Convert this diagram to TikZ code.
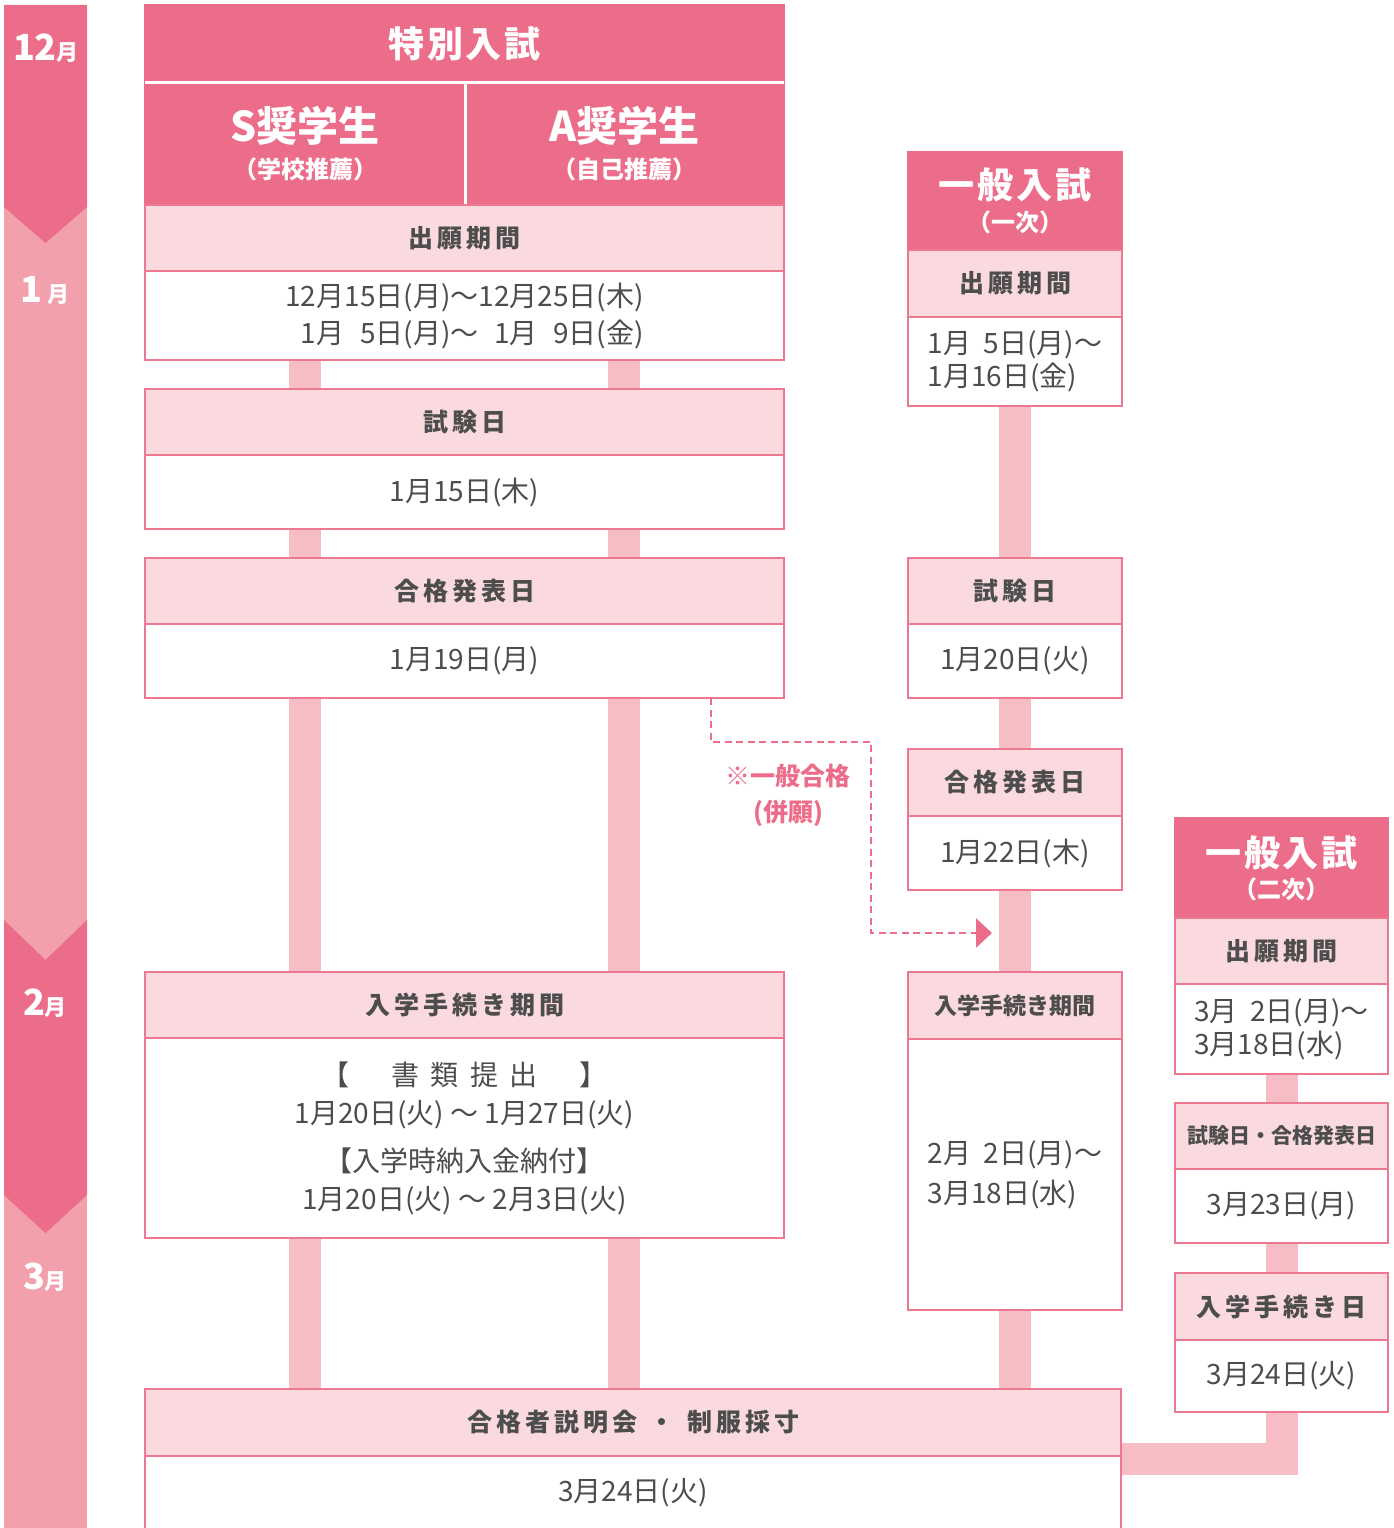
\documentclass[tikz,border=0pt]{standalone}
\usepackage{fontspec}
\setmainfont{Noto Sans CJK JP}
\usetikzlibrary{arrows.meta,backgrounds,calc}
\definecolor{darkp}{HTML}{EC6D89}
\definecolor{lightp}{HTML}{F1A0AC}
\definecolor{paleh}{HTML}{FADADF}
\definecolor{pipec}{HTML}{F6BDC5}
\definecolor{bordc}{HTML}{EC7891}
\definecolor{textc}{HTML}{4D4D4D}
\newcommand{\fsz}[2][]{\fontsize{#2}{#2}\selectfont}
\newcommand{\fszl}[2]{\fontsize{#1}{#2}\selectfont}

\tikzset{
  cell/.style={anchor=north west, inner sep=0pt, outer sep=0pt, line width=1.8pt, draw=bordc, text=textc},
  ttlbox/.style={cell, fill=darkp, draw=darkp, text=white, align=center},
  hdbox/.style={cell, fill=paleh, font=\fsz{25}\bfseries\addfontfeature{LetterSpace=16}},
  dtbox/.style={cell, fill=white, font=\fszl{28}{37}, align=center},
  pipe/.style={pipec, line width=32pt},
  monthlabel/.style={anchor=base, text=white, font=\bfseries},
  noteline/.style={darkp, line width=2.8pt, dash pattern=on 7pt off 4.5pt, -{Triangle[length=16pt,width=29pt]}},
}

\begin{document}
\begin{tikzpicture}[x=1pt, y=-1pt]
    \useasboundingbox (0,0) rectangle (1394,1528);

    \fill[lightp] (4,5) rectangle (87,1528);
    \fill[darkp] (4,5) -- (87,5) -- (87,207) -- (45.5,243) -- (4,207) -- cycle;
    \fill[darkp] (4,920) -- (45.5,960) -- (87,920) -- (87,1195) -- (45.5,1233) -- (4,1195) -- cycle;
    \path (46,60) node[monthlabel] (m-dec) {\fsz{36}12\fsz{22}月};
    \path (45,302) node[monthlabel] (m-jan) {\fsz{36}1\,\fsz{22}月};
    \path (45,1015) node[monthlabel] (m-feb) {\fsz{36}2\fsz{22}月};
    \path (45,1289) node[monthlabel] (m-mar) {\fsz{36}3\fsz{22}月};

    \path (145,5) node[ttlbox, minimum width=639pt, minimum height=77pt, font=\fsz{36}\bfseries\addfontfeature{LetterSpace=8}] (sp) {特別入試};
    \path (145,82) node[ttlbox, minimum width=320pt, minimum height=123pt, font=\bfseries] (sp-s) {\fsz{41}S奨学生\\[12pt]\fszl{24}{41}（学校推薦）};
    \path (465,82) node[ttlbox, minimum width=319pt, minimum height=123pt, font=\bfseries] (sp-a) {\fsz{41}A奨学生\\[12pt]\fszl{24}{41}（自己推薦）};
    \draw[white, line width=3pt] (sp.south west) -- (sp.south east);
    \draw[white, line width=3pt] (sp-s.north east) -- (sp-s.south east);
    \path (145,205) node[hdbox, minimum width=639pt, minimum height=66pt] (sp-app-hd) {出願期間};
    \path (145,271) node[dtbox, minimum width=639pt, minimum height=89pt, align=left] (sp-app) {12月15日(月)～12月25日(木)\\\phantom{1}1月\phantom{1}5日(月)～\phantom{1}1月\phantom{1}9日(金)};
    \path (145,389) node[hdbox, minimum width=639pt, minimum height=66pt] (sp-exam-hd) {試験日};
    \path (145,455) node[dtbox, minimum width=639pt, minimum height=74pt] (sp-exam) {1月15日(木)};
    \path (145,558) node[hdbox, minimum width=639pt, minimum height=66pt] (sp-pass-hd) {合格発表日};
    \path (145,624) node[dtbox, minimum width=639pt, minimum height=74pt] (sp-pass) {1月19日(月)};
    \path (145,972) node[hdbox, minimum width=639pt, minimum height=66pt] (sp-proc-hd) {入学手続き期間};
    \path (145,1038) node[dtbox, minimum width=639pt, minimum height=200pt, font=\fszl{28}{38}] (sp-proc) {【\hspace{1.5em}書\hspace{.4em}類\hspace{.4em}提\hspace{.4em}出\hspace{1.5em}】\\1月20日(火) ～ 1月27日(火)\\[10pt]【入学時納入金納付】\\1月20日(火) ～ 2月3日(火)};

    \path (908,152) node[ttlbox, minimum width=214pt, minimum height=98pt, font=\bfseries] (g1) {\fsz{36}\addfontfeature{LetterSpace=8}一般入試\\[8pt]\fszl{24}{38}（一次）};
    \path (908,250) node[hdbox, minimum width=214pt, minimum height=67pt] (g1-app-hd) {出願期間};
    \path (908,317) node[dtbox, minimum width=214pt, minimum height=89pt, align=left, font=\fszl{28}{33}] (g1-app) {1月\ \ 5日(月)～\\1月16日(金)};
    \path (908,558) node[hdbox, minimum width=214pt, minimum height=66pt] (g1-exam-hd) {試験日};
    \path (908,624) node[dtbox, minimum width=214pt, minimum height=74pt] (g1-exam) {1月20日(火)};
    \path (908,749) node[hdbox, minimum width=214pt, minimum height=67pt] (g1-pass-hd) {合格発表日};
    \path (908,816) node[dtbox, minimum width=214pt, minimum height=74pt] (g1-pass) {1月22日(木)};
    \path (908,972) node[hdbox, minimum width=214pt, minimum height=67pt, font=\fsz{23}\bfseries] (g1-proc-hd) {入学手続き期間};
    \path (908,1039) node[dtbox, minimum width=214pt, minimum height=271pt, align=left, font=\fszl{28}{40}] (g1-proc) {2月\ \ 2日(月)～\\3月18日(水)};

    \path (1175,818) node[ttlbox, minimum width=213pt, minimum height=100pt, font=\bfseries] (g2) {\fsz{36}\addfontfeature{LetterSpace=8}一般入試\\[7pt]\fszl{24}{38}（二次）};
    \path (1175,918) node[hdbox, minimum width=213pt, minimum height=66pt] (g2-app-hd) {出願期間};
    \path (1175,984) node[dtbox, minimum width=213pt, minimum height=90pt, align=left, font=\fszl{28}{33}] (g2-app) {3月\ \ 2日(月)～\\3月18日(水)};
    \path (1175,1103) node[hdbox, minimum width=213pt, minimum height=66pt, font=\fsz{21}\bfseries] (g2-exam-hd) {試験日・合格発表日};
    \path (1175,1169) node[dtbox, minimum width=213pt, minimum height=74pt] (g2-exam) {3月23日(月)};
    \path (1175,1273) node[hdbox, minimum width=213pt, minimum height=67pt] (g2-proc-hd) {入学手続き日};
    \path (1175,1340) node[dtbox, minimum width=213pt, minimum height=72pt] (g2-proc) {3月24日(火)};

    \path (145,1389) node[hdbox, minimum width=976pt, minimum height=67pt] (brief-hd) {合格者説明会\hspace{.5em}・\hspace{.5em}制服採寸};
    \path (145,1456) node[dtbox, minimum width=976pt, minimum height=74pt] (brief) {3月24日(火)};

    \begin{pgfonlayer}{background}
        \coordinate (col-s) at ($(sp-app.south west)!0.25!(sp-app.south east)$);
        \coordinate (col-a) at ($(sp-app.south west)!0.75!(sp-app.south east)$);
        \draw[pipe] (col-s) -- (brief-hd.north -| col-s);
        \draw[pipe] (col-a) -- (brief-hd.north -| col-a);
        \draw[pipe] (g1-app.south) -- (brief-hd.north -| g1-app.south);
        \draw[pipe] (g2-app.south) -- (g2-proc.south) |- ([yshift=-3pt]brief.north east);
    \end{pgfonlayer}

    \coordinate (g1-aim) at (992,933);
    \draw[noteline] ([xshift=246.5pt]sp-pass.south) |- ++(160,44) |- (g1-aim);
    \path (788,795) node[text=darkp, align=center, font=\fszl{25}{36}\bfseries] (sp-note) {※一般合格\\(併願)};
\end{tikzpicture}
\end{document}
